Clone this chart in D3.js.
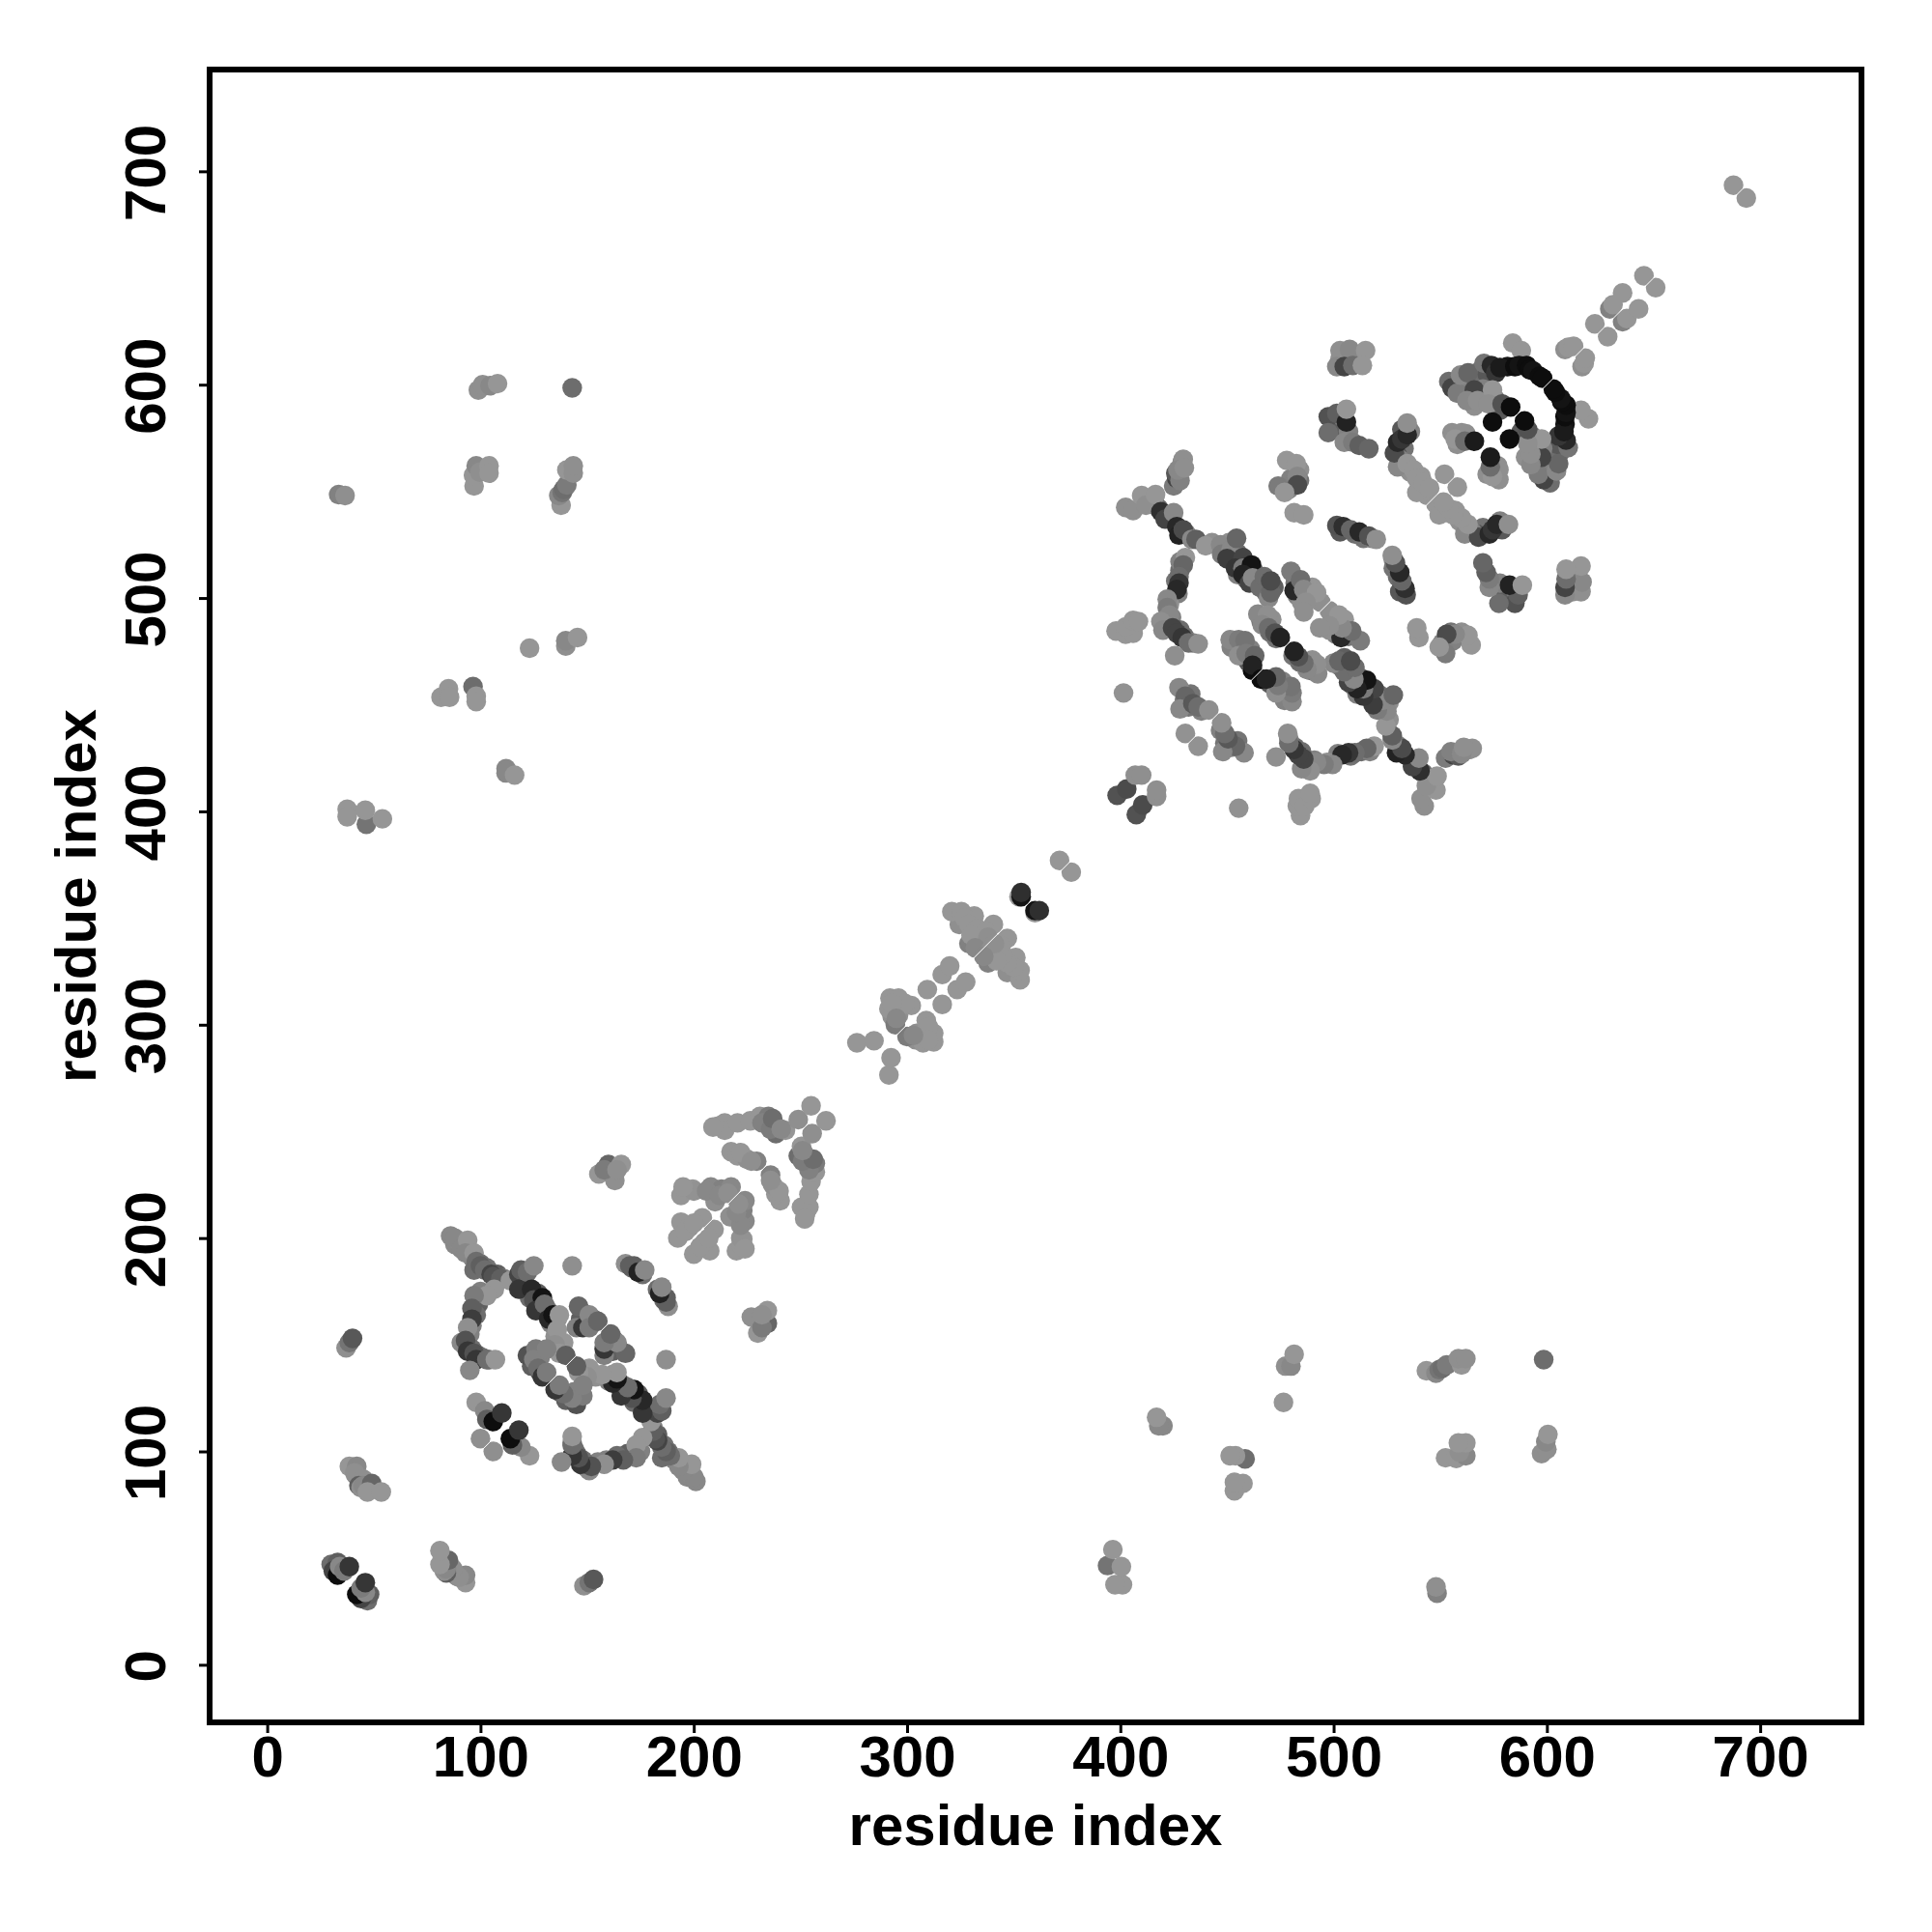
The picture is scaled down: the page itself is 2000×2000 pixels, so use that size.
<!DOCTYPE html>
<html><head><meta charset="utf-8">
<script src="https://cdn.jsdelivr.net/npm/d3@7"></script>
<style>html,body{margin:0;padding:0;background:#fff}</style></head>
<body><div id="chart"></div>
<script>
// Contacts above the diagonal: [residue i, residue j, strength]; the map is symmetric.
const tickValues = [0,100,200,300,400,500,600,700];
const axisTitle = "residue index";
const nearTerminal = [[30,47,.3],[33,48,.4],[31,44,.6],[33,42,1],[36,45,.1],[34,46,.1],[36,44,.2],[38.5,46,.7],
 [38.5,93,0],[42,93,.1],[41.5,89,.1],[41,90,.05],[45,87,.05],[43,84,.4],[44,83,.05],[45,84,.1],[49,85,.35],[47,81,0],[53.5,81,0],
 [37,148.5,.05],[38.5,151,.25],[40,153,.45]];
const farLeft = [[37.5,401,0],[37.5,397.5,0],[46.5,394,.25],[46,400.5,0],[54,396.5,0],
 [112,420,.1],[112,418,.1],[116,417,0],[81.5,453.5,0],[85,457.5,0],[85.5,453.5,0],[96.5,458.5,.3],[98,454,0],[98,451.5,0],
 [123,476.5,0],[140,477.5,.05],[140,480,.1],[145.5,481.5,0],
 [33.5,548.5,.15],[36.5,548,.05],[137.8,543.5,0],[136.7,548,.1],[138.3,549.5,.25],[139,551,.3],[140.5,553,.2],[140.5,560,0],[143.5,558.5,.05],[143.5,562,.05],
 [97,552.5,0],[96.7,557.5,0],[98,562,.1],[99.7,559,.05],[104,562,0],[104,558.5,0],
 [99,597.5,.05],[101,600,.05],[104.5,599.5,.1],[108,600.5,0],[143,598.5,.3]];
const hairpinAOverlay = [[100,188,.3],[103,186,.25],[108,183,.4],[111,181,.15],[120,180,.3],[121,177,.45],[123,172,.3],[127,174,.4],[128,168,.3],[131,167,.25],[133,160,.15],[136,162,.05],[135,154,.05],[138,148,.1],[139,151,0],
 [99,169,.4],[98,164,.3],[96,159,.15],[95,155,.15],[93,149,.4],[96,148,.3],[99,145,.4],[101,144,.3],[104,143,.2],[100,175,.15],
 [148,165,.3],[149,160,.25],[153,162,.4],[147,162,.4],
 [124,140,.4],[128,144,.15],[128,137,.45],[171,186,.3],[176,183,.3],[172,187,.4],
 [88,197,.1],[90,198,.05],[94,193,.05],[96,191,.15],[99,187,.25]];
const hairpinA = [[86,201,.1],[88,200,.1],[91,195,.1],[94,199,0],[93,193,.1],[97,193,0],[98,189,.3],[97,185,.3],[100,187,.4],[102,185,.3],[105,183,.6],[106,182,.5],[109.5,181,.4],[114,180,0],
 [118,183,.6],[119,185,.4],[118,176,.7],[122,184,.3],[125,187,.1],[124,176,.8],[125,171,.5],[129,172,.95],[126,166,.7],[130,169,.3],[132,162,.8],[134,164,.95],[137,164,0],[136,157,0],[135,150,.05],[137,146,0],[140,145,.4],
 [106.5,176,0],[103,173,0],[97,173,.2],[96,167,.4],[96,162,.65],[94,158,.05],[91,151,.1],[93,152,.5],[94,147,.7],[97,146,.5],[98,143,.7],[103,143,.3],[107,143,0],[95,138,.1],
 [122,145,.5],[126,148,.2],[125,143,.15],[131,148,.15],[127,139,.3],[129,135,.7],[131,137,.2],
 [146,168,.35],[145,158,.15],[148,158,.7],[151,164,.1],[151,158,.2],[155,161,.35],
 [143,187,.05],[168,188,.05],[170,187,.4],[174,184,.85],[177,185,.1],
 [98,123,0],[102,119,.1],[103,115,.4],[106,114,1],[110,118,.7],[100,106,.05]];
const hairpinB = [[155.5,230,0],[160,234.5,.35],[166,234.5,0],[162,230,.1],[163,227,.05],[158,232,.2],[164,232,.05],
 [192.5,200,0],[194,207.5,0],[198,205,0],[204,209.5,0],[194,220,0],[196,222.5,0],[199.5,223,0],[208,224,.1],[213,223,.15],[217.5,224,.1],[210,217,.05],
 [200,222,.03],[206,222,.1],[212,220,.1],[216,221,.05],[196,203,0],[200,207,0],[195,224,0],
 [211.5,252.5,0],[214.5,254,0],[214.5,250.5,0],[220.5,254,0],[226.5,255,0],[231,257,0],[235,257,.2],[235.5,254,.3],[239,252,.2],[238.5,249,.3],[243,250.5,0],[249,255.5,.05],[255,262,0],
 [232,254,.15],[236,251,.2],[237,256,.3],[241,251,.1],[209,252,0],
 [217.5,240.5,0],[220.5,238.5,0],[225,237,.05],[229.5,236,.15],[222,240,0],[227,236,.05]];
const linker = [[276.5,291.5,0],[284.5,292.5,0],[293,304,.05],[296,304.5,.05],[294.5,300,.2],[291.5,307.5,0],[292,312.5,0],[296,312.5,0],[302,309,0],[296,308,0],[299,310,0],[293,310,0],[295,303,.1],
 [309.5,316.5,0],[316.5,323.5,0],[320,327.5,0],
 [329,338,.15],[333,341.5,0],[335.5,339.5,.05],[324.5,347,.05],[321,353,0],[325.5,353,0],[331.5,351,0],[340.5,347,0],[327,350,0],[329,347,0],[333,345,0],[337,344,0],[330,342,0],[338,341,.05],[332,336,.1],
 [352.5,360,0],[353.5,360,.95],[353.5,362,.75],[371.5,377,0]];
const domainNear = [[398.5,407.5,.5],[403,410.5,.55],[407,417,.05],[410,417,.05],
 [398,484.5,0],[402.5,483,0],[406,483.5,0],[402.5,486.5,0],[406,489.5,0],[408.5,489,0],[401.5,455.5,.03],
 [430,452,.15],[432,449,.25],[438,447,.15],[433,455,.25],
 [427.5,458,.1],[430.5,454,.35],[428,448,.1],[434,450.5,.45],[436.5,449,.3],[441.5,447.5,.05],[430.5,436.5,.03]];
const domainTopOverlay = [[423,537,.45],[428,531,.3],[431,530,.15],[443,526,.05],[450,524,.15],[451,526,.05],[455,521,.3],[453,518,.3],[459,516,.15],[455,511,.15],[459,509,.25],[463,512,.3],[466,507,.3],[468,503,.25],[472,505,.4],
 [428,513,.3],[426,508,.25],[427,502,.15],[423,497,.05],[424,491,.15],[428,485,.3],[430,482,.3],[434,479,.15],[421,487,.05],[428,517,.15],
 [416,545,.05],[418,542,.3],[424,538,.25]];
const domainTop = [[402.5,542.5,.05],[406,541,.05],[410,548,0],[412,543.5,.05],[416.5,548.5,0],
 [425,552.5,.2],[426.5,556,.6],[426,558.5,.45],[429,563.5,.1],[429.5,565,.05],[428,555,.15],[427,560,.1],[430,561,.05],
 [419,540.5,.75],[421,537,.6],[425,540,.1],[426.5,533.5,.8],[427.5,529.5,.85],[429.5,532,.55],[433.5,527.5,.1],[435.5,527.5,.4],[440,524.5,0],
 [447,525,.1],[447.5,520.5,.2],[452,523,.1],[454.5,528,.35],[450,518.5,.65],[457.5,519,.6],[454,514,.7],[457.5,514,.2],[461.5,515.5,.95],[457.5,511,.85],[460.5,507,.6],[462,509.5,.1],[465.5,505,.3],[467.5,510,.3],[469.5,500,.1],[470.5,502.5,.35],[470.5,508,.55],
 [430.5,519,0],[429.5,515.5,.35],[427.5,510,.3],[427.5,507,.7],[426.5,504,.8],[422,499.5,.1],[422,495.5,.2],[423,492,.1],[419,489,.05],[420,485,.1],[424.5,486,.6],[426.5,483.5,.6],[429,481.5,.7],[432,479,.3],[436.5,478.5,.05],[425.5,473,.05]];
const domainMidOverlay = [[452,477,.15],[457,477,.05],[461,476,.15],[460,470,.45],[466,489,.25],[470,484,.3],[473,481,.25],[471,490,.05],
 [482,507,.25],[483,501,.15],[485,498,.05],[489,500,.05],[490,505,0],[494,498,.05],
 [505,532,.3],[510,530,.3],[514,528,.25],[518,528,.15],[503,531,.45],[484,560,.05],[480,556,.15],[479,551,.15],[484,555,.25]];
const domainMid = [[451.5,480.5,.1],[455.5,480.5,.2],[458.5,480,.25],[455.5,473,.05],[459,474,.2],[463,473,.35],[462,466,1],[462,468.5,.85],
 [464.5,492.5,.1],[469,492,.05],[466.5,487.5,.1],[469.5,486,.3],[472.5,483.5,.5],[475,481.5,.85],
 [480,512.5,.2],[481.5,503.5,.8],[484.5,508.5,.3],[486,504,.1],[492,502.5,0],[487,498,.05],[486,493.5,.05],
 [501.5,534,.5],[504.5,533.5,.75],[508,532,.35],[512,531,.8],[516.5,529,.5],[520,527.5,.05],
 [478,564.5,0],[482.5,563,0],[483,557,.1],[483,553,.55],[474,552.5,.2],[477,549.5,0],[481.5,540,0],[486,539,0]];
const domainEnd = [[505,612,.1],[510,611,.1],[503,612,.05],[503,616,.05],[507.5,616.5,.1],[515,616,0],[501.5,608.5,.1],[505,608.5,.6],[509,609,.3],[513.5,609,0],
 [500,582,.25],[503,580,.4],[504,585,.15],[507,578,.15],[497.5,585,.5],[497.5,577.5,.3],[501.5,586.5,.4],[506,582.5,.85],[506,588.5,0],[505,573,.1],[509,573,.2],[512,571.5,.4],[516.5,570,.35],
 [533,570,.25],[530,567,.45],[536,578,.15],[532,579,.45],[531,565,.15],[536,559,.05],[541,557,0],[544,548,0],
 [530,561.5,.1],[528.5,568,.55],[530,573,.8],[532,574.5,.7],[534.5,576.5,.8],[534.5,582,.05],[534.5,563,0],[537.5,560,0],[539,556,0],[539,549.5,0],[542,554,0],[545,551.5,0],[552,558,0],
 [556,600,.25],[561,600,.3],[564,603,.25],[568,606,.3],[572,605,.45],[558,601,.15],[570,598,.15],[566,590,.05],[576,593,.15],[578,588,.45],
 [554,601.5,.3],[555.5,598.5,.6],[558,596,.2],[559.5,604.5,.1],[563,605.5,.35],[566,597.5,.6],[562.5,592.5,.1],[570.5,610,.25],[574,609,.8],[576,605.5,.7],[567.5,592.5,.05],[574.5,597.5,0],[572.5,591,.05],[579,591,.5],[583,589.5,1],[581.5,608.5,.95],[574.5,582.5,1],
 [584,619.5,0],[588,616,0],[578,608,.9],[585,608.5,1],[587,609,.95],[590.5,609,1],[592,607,1],[593.5,606.5,.95],[596.5,604,1],[598,603,1],
 [562,577,.05],[558,572,.05],[555.5,577.5,.05],[560,577.5,.05],[557,574.5,0],[561.5,573.5,.3],[566,573.5,.9]];
const terminalTail = [[608.5,616.5,.05],[610,617.5,0],[612.5,618,0],[622.5,628.5,0],[629.5,635.5,.15],[631,637.5,0],[635.5,643,0],[645.5,651,0],[687.5,693.5,0]];

const groups = [nearTerminal,farLeft,hairpinAOverlay,hairpinA,hairpinB,linker,domainNear,domainTopOverlay,domainTop,domainMidOverlay,domainMid,domainEnd,terminalTail];

const W = 2000, H = 2000;
const svg = d3.select("#chart").append("svg").attr("width",W).attr("height",H).style("display","block");
const frame = {l:217,r:1927,t:72,b:1783};
const x = d3.scaleLinear().domain([-27,747.5]).range([frame.l,frame.r]);
const y = d3.scaleLinear().domain([-27,747.7]).range([frame.b,frame.t]);
const shade = d3.scaleLinear().domain([0,1]).range(["#969696","#0d0d0d"]);
const font = "'Liberation Sans', Arial, Helvetica, sans-serif";

const rows = groups.flat();
const marks = svg.append("g");
[false,true].forEach(flip=>{
  marks.append("g").selectAll("circle").data(rows).join("circle")
    .attr("cx",d=>x(flip?d[1]:d[0])).attr("cy",d=>y(flip?d[0]:d[1]))
    .attr("r",10.2).attr("fill",d=>shade(d[2]));
});
svg.append("line").attr("x1",x(0)).attr("y1",y(0)).attr("x2",x(740)).attr("y2",y(740))
  .attr("stroke","#fff").attr("stroke-width",1);

const gx = svg.append("g").attr("transform",`translate(0,${frame.b})`)
  .call(d3.axisBottom(x).tickValues(tickValues).tickSize(11).tickFormat(d3.format("d")));
const gy = svg.append("g").attr("transform",`translate(${frame.l},0)`)
  .call(d3.axisLeft(y).tickValues(tickValues).tickSize(11).tickFormat(d3.format("d")));
[gx,gy].forEach(g=>{
  g.select(".domain").remove();
  g.selectAll("line").attr("stroke","#000").attr("stroke-width",3);
  g.selectAll("text").attr("font-family",font).attr("font-weight","bold").attr("font-size",60).attr("fill","#000");
});
gx.selectAll("text").attr("y",56).attr("dy",null).attr("text-anchor","middle").attr("dominant-baseline","alphabetic");
gy.selectAll("text").attr("x",null).attr("dy",null).attr("text-anchor","middle")
  .attr("transform","translate(-46,1) rotate(-90)");

svg.append("rect").attr("x",frame.l).attr("y",frame.t).attr("width",frame.r-frame.l).attr("height",frame.b-frame.t)
  .attr("fill","none").attr("stroke","#000").attr("stroke-width",6);

svg.append("text").attr("x",(frame.l+frame.r)/2).attr("y",1910).attr("text-anchor","middle")
  .attr("font-family",font).attr("font-weight","bold").attr("font-size",60).text(axisTitle);
svg.append("text").attr("transform",`translate(99,${(frame.t+frame.b)/2}) rotate(-90)`).attr("text-anchor","middle")
  .attr("font-family",font).attr("font-weight","bold").attr("font-size",60).text(axisTitle);
</script></body></html>
